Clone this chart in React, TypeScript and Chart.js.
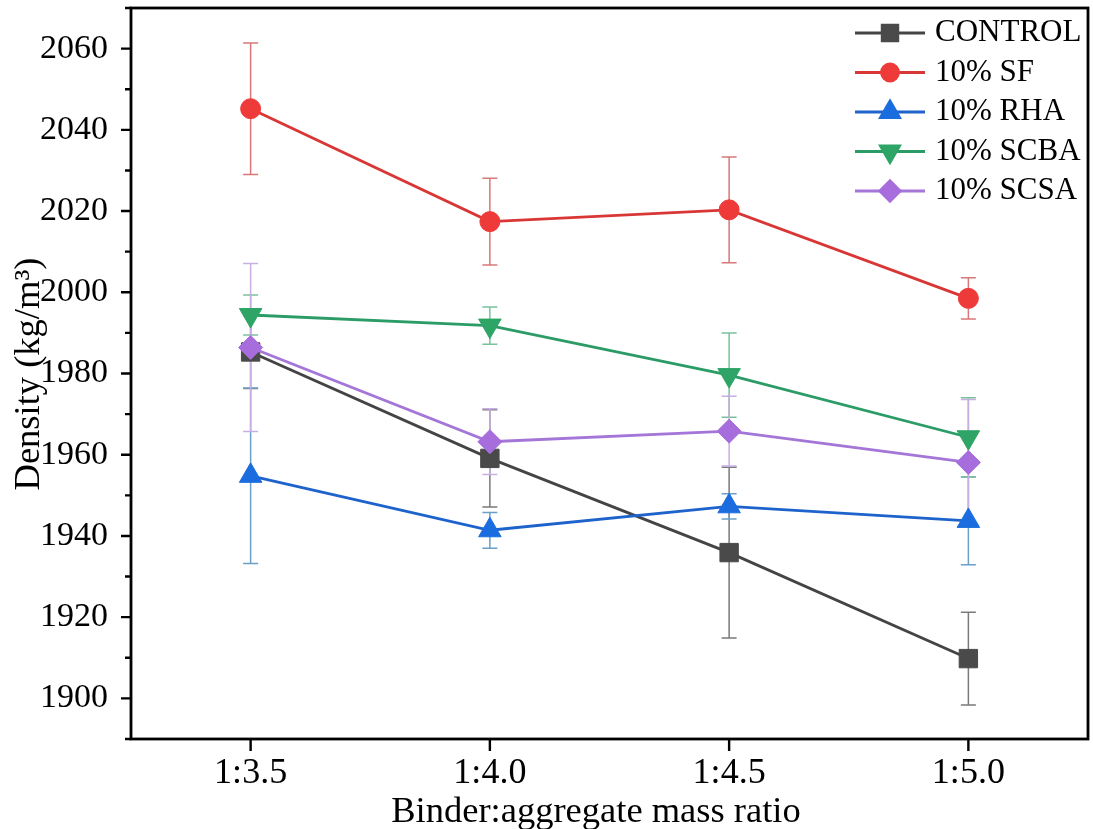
import React, { useEffect, useRef } from 'react';
import { Chart, registerables } from 'chart.js';
import { drawPoint } from 'chart.js/helpers';

Chart.register(...registerables);

// ---------- data ----------
const categories = ['1:3.5', '1:4.0', '1:4.5', '1:5.0'];
const seriesNames = ['CONTROL', '10% SF', '10% RHA', '10% SCBA', '10% SCSA'];
const controlValues = [1985.3, 1959.1, 1935.9, 1909.8];
const controlErrors = [9.0, 12.0, 21.0, 11.4];
const sfValues = [2045.2, 2017.4, 2020.3, 1998.5];
const sfErrors = [16.2, 10.7, 13.0, 5.1];
const rhaValues = [1954.8, 1941.4, 1947.3, 1943.7];
const rhaErrors = [21.6, 4.4, 3.1, 10.8];
const scbaValues = [1994.4, 1991.8, 1979.6, 1964.3];
const scbaErrors = [4.9, 4.6, 10.4, 9.7];
const scsaValues = [1986.4, 1963.2, 1965.8, 1958.1];
const scsaErrors = [20.7, 8.1, 8.6, 15.5];
const yMin = 1890;
const yMax = 2070;
const yLabelStep = 20;
const yMinorStep = 10;
const xTitle = 'Binder:aggregate mass ratio';
const yTitle = 'Density (kg/m\u00B3)';

// ---------- styles ----------
const FONT = "'Liberation Serif', 'Times New Roman', serif";
const styles = [
  { line: '#444444', fill: '#4a4a4a', err: '#7a7a7a', pointStyle: 'rect', radius: 13, rotation: 0 },
  { line: '#d93636', fill: '#ef3a3a', err: '#d87878', pointStyle: 'circle', radius: 10, rotation: 0 },
  { line: '#1e62cc', fill: '#1b6ddf', err: '#6a9fc8', pointStyle: 'triangle', radius: 13, rotation: 0 },
  { line: '#2c9c66', fill: '#2ea566', err: '#79c19c', pointStyle: 'triangle', radius: 13, rotation: 180 },
  { line: '#a476d8', fill: '#a86ddc', err: '#c9aee3', pointStyle: 'rectRot', radius: 12, rotation: 0 },
];
const values = [controlValues, sfValues, rhaValues, scbaValues, scsaValues];
const errors = [controlErrors, sfErrors, rhaErrors, scbaErrors, scsaErrors];

const zeroPad = (s: any) => {
  s.paddingLeft = 0;
  s.paddingRight = 0;
  s.paddingTop = 0;
  s.paddingBottom = 0;
};

const decorPlugin = {
  id: 'decor',
  beforeDatasetsDraw(chart: any) {
    const { ctx, scales } = chart;
    const y = scales.y;
    chart.data.datasets.forEach((ds: any, i: number) => {
      const meta = chart.getDatasetMeta(i);
      ctx.save();
      ctx.strokeStyle = ds.errorColor;
      ctx.lineWidth = 1.5;
      meta.data.forEach((pt: any, j: number) => {
        const v = ds.data[j];
        const e = ds.errors[j];
        const y1 = y.getPixelForValue(v + e);
        const y2 = y.getPixelForValue(v - e);
        ctx.beginPath();
        ctx.moveTo(pt.x, y1);
        ctx.lineTo(pt.x, y2);
        ctx.moveTo(pt.x - 7.5, y1);
        ctx.lineTo(pt.x + 7.5, y1);
        ctx.moveTo(pt.x - 7.5, y2);
        ctx.lineTo(pt.x + 7.5, y2);
        ctx.stroke();
      });
      ctx.restore();
    });
  },
  afterDraw(chart: any) {
    const { ctx, chartArea: a, scales } = chart;
    const x = scales.x;
    const y = scales.y;
    ctx.save();
    // frame
    ctx.strokeStyle = '#000';
    ctx.lineWidth = 2.8;
    ctx.strokeRect(a.left, a.top, a.right - a.left, a.bottom - a.top);
    // y ticks
    ctx.lineWidth = 2.4;
    ctx.beginPath();
    for (let v = yMin; v <= yMax; v += yMinorStep) {
      const py = y.getPixelForValue(v);
      const major = v % yLabelStep === 0;
      ctx.moveTo(a.left, py);
      ctx.lineTo(a.left - (major ? 10 : 6), py);
    }
    // x ticks
    categories.forEach((_c, i) => {
      const px = x.getPixelForValue(i);
      ctx.moveTo(px, a.bottom);
      ctx.lineTo(px, a.bottom + 12);
    });
    ctx.stroke();
    // axis titles
    ctx.fillStyle = '#000';
    ctx.font = `36.5px ${FONT}`;
    ctx.textAlign = 'center';
    ctx.textBaseline = 'alphabetic';
    ctx.fillText(xTitle, 596, 822);
    ctx.save();
    ctx.translate(39, 374);
    ctx.rotate(-Math.PI / 2);
    ctx.fillText(yTitle, 0, 0);
    ctx.restore();
    // legend
    const rowY0 = 33;
    const rowGap = 39.5;
    chart.data.datasets.forEach((ds: any, i: number) => {
      const ry = rowY0 + i * rowGap;
      const st = styles[i];
      ctx.strokeStyle = st.line;
      ctx.lineWidth = 2.8;
      ctx.beginPath();
      ctx.moveTo(855, ry);
      ctx.lineTo(925, ry);
      ctx.stroke();
      ctx.fillStyle = st.fill;
      ctx.strokeStyle = st.fill;
      drawPoint(ctx, { pointStyle: st.pointStyle, radius: st.radius * 0.85, rotation: st.rotation, borderWidth: 1 }, 890, ry);
      ctx.fillStyle = '#000';
      ctx.font = `31px ${FONT}`;
      ctx.textAlign = 'left';
      ctx.textBaseline = 'middle';
      ctx.fillText(ds.label, 935, ry);
    });
    ctx.restore();
  },
};

export default function App() {
  const ref = useRef<HTMLCanvasElement | null>(null);
  useEffect(() => {
    if (!ref.current) return;
    const datasets = seriesNames.map((name, i) => ({
      label: name,
      data: values[i],
      errors: errors[i],
      errorColor: styles[i].err,
      borderColor: styles[i].line,
      backgroundColor: styles[i].fill,
      pointBackgroundColor: styles[i].fill,
      pointBorderColor: styles[i].fill,
      pointBorderWidth: 1,
      pointStyle: styles[i].pointStyle,
      pointRadius: styles[i].radius,
      pointRotation: styles[i].rotation,
      borderWidth: 2.8,
      tension: 0,
      fill: false,
      order: 5 - i,
    }));
    const chart = new Chart(ref.current, {
      type: 'line',
      data: { labels: categories, datasets: datasets as any },
      options: {
        responsive: false,
        animation: false,
        layout: { autoPadding: false, padding: { left: 0, top: 8, right: 5, bottom: 0 } },
        plugins: { legend: { display: false }, tooltip: { enabled: false } },
        scales: {
          x: {
            type: 'category',
            offset: true,
            grid: { display: false, drawTicks: false },
            border: { display: false },
            ticks: { color: '#000', font: { family: FONT, size: 36 }, padding: 13, maxRotation: 0 },
            afterFit: (s: any) => { s.height = 90; zeroPad(s); },
          },
          y: {
            min: yMin,
            max: yMax,
            grid: { display: false, drawTicks: false },
            border: { display: false },
            ticks: {
              stepSize: yMinorStep,
              autoSkip: false,
              color: '#000',
              font: { family: FONT, size: 34 },
              padding: 23,
              callback: (v: any) => (Number(v) % yLabelStep === 0 ? String(v) : ''),
            },
            afterFit: (s: any) => { s.width = 131; zeroPad(s); },
          },
        },
      },
      plugins: [decorPlugin],
    });
    return () => chart.destroy();
  }, []);
  return (
    <div style={{ position: 'absolute', left: 0, top: 0, width: 1093, height: 829, background: '#fff' }}>
      <canvas ref={ref} width={1093} height={829} style={{ display: 'block' }} />
    </div>
  );
}
